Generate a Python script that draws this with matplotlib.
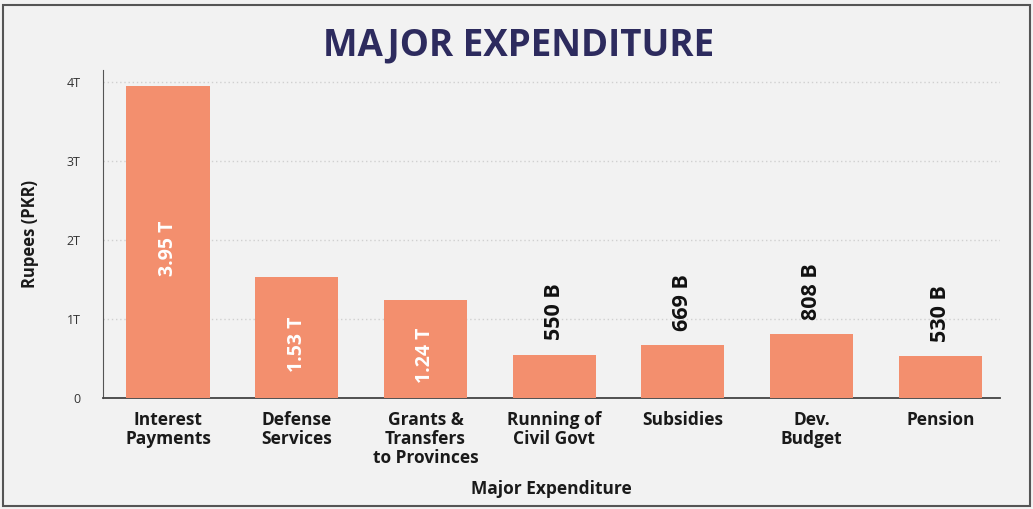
import matplotlib.pyplot as plt
from matplotlib.patches import Rectangle

categories = ['Interest\nPayments', 'Defense\nServices', 'Grants &\nTransfers\nto Provinces',
              'Running of\nCivil Govt', 'Subsidies', 'Dev.\nBudget', 'Pension']
values = [3.95, 1.53, 1.24, 0.550, 0.669, 0.808, 0.530]  # trillions PKR
value_labels = ['3.95 T', '1.53 T', '1.24 T', '550 B', '669 B', '808 B', '530 B']
inside = [True, True, True, False, False, False, False]
yticks = [0, 1, 2, 3, 4]
ytick_labels = ['0', '1T', '2T', '3T', '4T']

bg = '#f2f2f2'
bar_color = '#f38f6e'
title_color = '#2d2b5e'
font = 'Open Sans'

fig = plt.figure(figsize=(10.33, 5.09), dpi=100, facecolor=bg)
ax = fig.add_axes([0.0997, 0.218, 0.868, 0.645], facecolor=bg)

x = list(range(len(categories)))
bars = ax.bar(x, values, width=0.645, color=bar_color, zorder=3)

for b, v, lab, ins in zip(bars, values, value_labels, inside):
    cx = b.get_x() + b.get_width() / 2
    if ins:
        ax.text(cx, v / 2 - 0.08, lab, rotation=90, ha='center', va='center', color='white',
                fontsize=14, fontweight='bold', family=font, zorder=4)
    else:
        ax.text(cx, v + 0.18, lab, rotation=90, ha='center', va='bottom', color='#111111',
                fontsize=15.5, fontweight='bold', family=font, zorder=4)

ax.set_xlim(-0.505, 6.46)
ax.set_ylim(0, 4.15)
ax.set_yticks(yticks)
ax.set_yticklabels(ytick_labels, fontsize=9, color='#333333', family=font)
ax.set_xticks(x)
ax.set_xticklabels(categories, fontsize=12.5, fontweight='bold', color='#1a1a1a',
                   family=font, linespacing=1.1, va='top')
ax.tick_params(axis='both', length=0)
ax.tick_params(axis='y', pad=16)
ax.tick_params(axis='x', pad=9)

ax.grid(axis='y', linestyle=(0, (1, 2)), color='#d0d0d0', linewidth=1.0, zorder=0)
for s in ['top', 'right']:
    ax.spines[s].set_visible(False)
ax.spines['left'].set_color('#555555')
ax.spines['bottom'].set_color('#444444')
ax.spines['bottom'].set_linewidth(1.3)

ax.set_ylabel('Rupees (PKR)', fontsize=12, fontweight='bold', family=font, labelpad=20,
              color='#1a1a1a')
ax.set_xlabel('Major Expenditure', fontsize=12.5, fontweight='bold', family=font, labelpad=9,
              color='#1a1a1a')

fig.text(0.502, 0.91, 'MAJOR EXPENDITURE', ha='center', va='center', fontsize=26.5,
         fontweight='bold', color=title_color, family=font)

fig.patches.append(Rectangle((0.003, 0.005), 0.994, 0.985, transform=fig.transFigure,
                             fill=False, edgecolor='#555555', linewidth=1.5))

fig.savefig('out.png', dpi=100, facecolor=bg)
